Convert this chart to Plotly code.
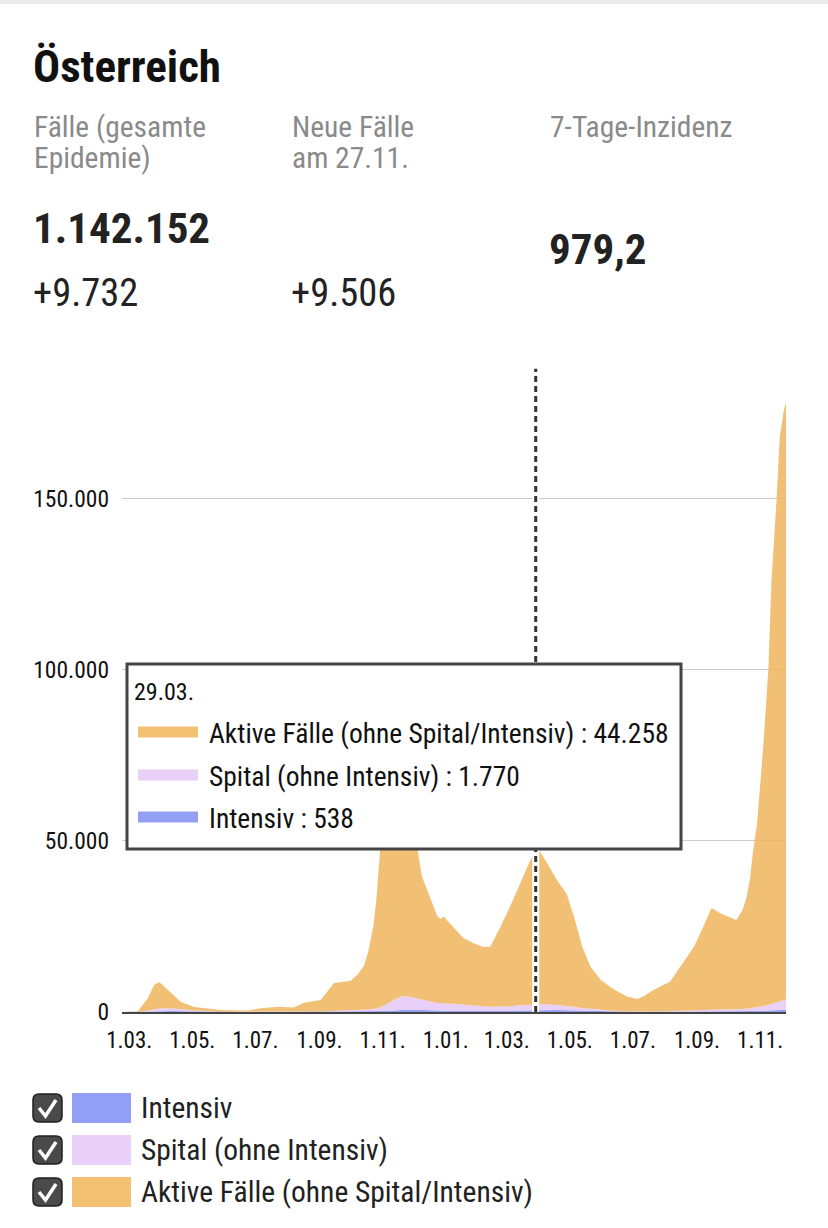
import plotly.graph_objects as go

# ---------------- data ----------------
dates = [
    "2020-02-23", "2020-03-09", "2020-03-19", "2020-03-25", "2020-03-30", "2020-04-10",
    "2020-04-20", "2020-05-03", "2020-05-29", "2020-06-24", "2020-07-06", "2020-07-23",
    "2020-08-04", "2020-08-07", "2020-08-17", "2020-09-02", "2020-09-15", "2020-10-01",
    "2020-10-08", "2020-10-14", "2020-10-18", "2020-10-23", "2020-10-26", "2020-10-28",
    "2020-10-30", "2020-11-03", "2020-11-08", "2020-11-13", "2020-11-18", "2020-11-23",
    "2020-11-28", "2020-12-02", "2020-12-05", "2020-12-09", "2020-12-15", "2020-12-24",
    "2020-12-27", "2020-12-30", "2021-01-02", "2021-01-08", "2021-01-18", "2021-01-27",
    "2021-02-06", "2021-02-13", "2021-02-23", "2021-03-07", "2021-03-17", "2021-03-24",
    "2021-03-29", "2021-04-02", "2021-04-09", "2021-04-18", "2021-04-28", "2021-05-05",
    "2021-05-13", "2021-05-21", "2021-05-31", "2021-06-12", "2021-06-25", "2021-07-05",
    "2021-07-11", "2021-07-21", "2021-08-06", "2021-08-16", "2021-08-29", "2021-09-07",
    "2021-09-15", "2021-09-23", "2021-10-03", "2021-10-09", "2021-10-15", "2021-10-19",
    "2021-10-22", "2021-10-25", "2021-10-29", "2021-11-04", "2021-11-09", "2021-11-12",
    "2021-11-17", "2021-11-20", "2021-11-24", "2021-11-26",
]

intensiv = [
    0, 0, 50, 120, 200, 260,
    200, 120, 30, 10, 10, 20,
    20, 20, 25, 30, 50, 75,
    85, 95, 110, 130, 150, 170,
    200, 280, 400, 520, 650, 700,
    700, 660, 620, 580, 530, 450,
    420, 400, 400, 380, 340, 300,
    280, 260, 280, 330, 430, 500,
    538, 580, 590, 580, 520, 460,
    370, 300, 200, 120, 60, 40,
    35, 40, 50, 80, 140, 190,
    210, 210, 200, 210, 220, 240,
    260, 270, 300, 350, 410, 450,
    520, 560, 620, 650,
]

spital = [
    0, 0, 300, 600, 800, 850,
    650, 350, 70, 40, 60, 90,
    90, 90, 100, 140, 260, 380,
    420, 480, 620, 780, 900, 1050,
    1200, 1700, 2500, 3200, 3800, 3900,
    3700, 3450, 3300, 3000, 2700, 2200,
    2200, 2100, 2100, 2000, 1800, 1500,
    1450, 1300, 1300, 1400, 1650, 1700,
    1770, 1800, 1700, 1500, 1300, 1100,
    800, 600, 400, 230, 120, 90,
    90, 120, 170, 250, 450, 550,
    600, 550, 500, 520, 620, 700,
    800, 900, 1100, 1400, 1700, 1900,
    2200, 2450, 2800, 3000,
]

aktiv = [
    0, 100, 3750, 7180, 7800, 4740,
    2050, 990, 480, 400, 1030, 1390,
    1390, 1190, 2575, 3330, 8190, 8695,
    10495, 12925, 16770, 24090, 31950, 40280,
    47600, 56020, 67100, 76280, 80550, 77400,
    63600, 50890, 43080, 36020, 31570, 25250,
    24580, 25400, 24400, 22520, 19460, 18400,
    17270, 17540, 23320, 30970, 37520, 42300,
    44258, 44520, 41210, 36720, 32680, 26340,
    17930, 12300, 8750, 6350, 4320, 3670,
    4375, 6240, 8680, 12870, 18510, 24160,
    29590, 28140, 26900, 26170, 28960, 32760,
    37540, 45330, 53600, 75750, 98490, 123950,
    147580, 165090, 172580, 174350,
]

series_names = ["Intensiv", "Spital (ohne Intensiv)", "Aktive Fälle (ohne Spital/Intensiv)"]
series_colors = ["#939FF5", "#E8D0F9", "#F2C174"]
series_fills = ["#939FF5", "#E8D0F9", "rgba(240,181,93,0.85)"]

tick_dates = ["2020-03-01", "2020-05-01", "2020-07-01", "2020-09-01", "2020-11-01",
              "2021-01-01", "2021-03-01", "2021-05-01", "2021-07-01", "2021-09-01",
              "2021-11-01"]
tick_labels = ["1.03.", "1.05.", "1.07.", "1.09.", "1.11.", "1.01.", "1.03.", "1.05.",
               "1.07.", "1.09.", "1.11."]
y_ticks = [0, 50000, 100000, 150000]
y_tick_labels = ["0", "50.000", "100.000", "150.000"]

title = "Österreich"
stat_labels = [["Fälle (gesamte", "Epidemie)"], ["Neue Fälle", "am 27.11."], ["7-Tage-Inzidenz"]]
stat_values = ["1.142.152", "", "979,2"]
stat_changes = ["+9.732", "+9.506", ""]

hover_date = "2021-03-29"
hover_label = "29.03."
hover_rows = ["Aktive Fälle (ohne Spital/Intensiv) : 44.258",
              "Spital (ohne Intensiv) : 1.770",
              "Intensiv : 538"]
hover_row_colors = [series_colors[2], series_colors[1], series_colors[0]]

# ---------------- layout helpers ----------------
W, H = 828, 1228
L, R, T, B = 122, 786, 372, 1012
FONT = "Roboto Condensed, Liberation Sans Narrow, DejaVu Sans Condensed, Liberation Sans, sans-serif"


def px(x):
    return (x - L) / (R - L)


def py(y):
    return (B - y) / (B - T)


fig = go.Figure()
for name, vals, fc in zip(series_names, [intensiv, spital, aktiv], series_fills):
    fig.add_trace(go.Scatter(
        x=dates, y=vals, name=name, mode="lines", stackgroup="one",
        line=dict(width=0), fillcolor=fc, hoverinfo="skip", showlegend=False,
    ))

shapes = []
annotations = []

# top grey strip
shapes.append(dict(type="rect", xref="paper", yref="paper", x0=px(0), x1=px(W),
                   y0=py(0), y1=py(4), fillcolor="#ebebeb", line=dict(width=0)))

# crosshair
shapes.append(dict(type="line", xref="x", yref="paper", x0=hover_date, x1=hover_date,
                   y0=0, y1=1.005, line=dict(color="white", width=7), layer="above"))
shapes.append(dict(type="line", xref="x", yref="paper", x0=hover_date, x1=hover_date,
                   y0=0, y1=1.005, line=dict(color="#333333", width=3, dash="6px,4px"),
                   layer="above"))

# tooltip box
shapes.append(dict(type="rect", xref="paper", yref="paper", x0=px(127), x1=px(681),
                   y0=py(849), y1=py(664), fillcolor="white",
                   line=dict(color="#444444", width=3), layer="above"))
annotations.append(dict(text=hover_label, x=px(132), y=py(692), xref="paper", yref="paper",
                        xanchor="left", yanchor="middle", showarrow=False,
                        font=dict(family=FONT, size=24, color="#111111")))
row_y = [732, 775, 817]
for txt, col, yy in zip(hover_rows, hover_row_colors, row_y):
    shapes.append(dict(type="rect", xref="paper", yref="paper", x0=px(138), x1=px(198),
                       y0=py(yy + 5.5), y1=py(yy - 5.5), fillcolor=col,
                       line=dict(width=0), layer="above"))
    annotations.append(dict(text=txt, x=px(207), y=py(yy + 1), xref="paper", yref="paper",
                            xanchor="left", yanchor="middle", showarrow=False,
                            font=dict(family=FONT, size=27.5, color="#111111")))

# header
annotations.append(dict(text="<b>" + title + "</b>", x=px(31), y=py(66), xref="paper",
                        yref="paper", xanchor="left", yanchor="middle", showarrow=False,
                        font=dict(family=FONT, size=45, color="#111111")))
col_x = [33, 291, 549]
for cx, lines in zip(col_x, stat_labels):
    for i, ln in enumerate(lines):
        annotations.append(dict(text=ln, x=px(cx - 1), y=py(127 + 31 * i), xref="paper",
                                yref="paper", xanchor="left", yanchor="middle",
                                showarrow=False,
                                font=dict(family=FONT, size=29.5, color="#8a8a8a")))
val_y = [228, 228, 249]
for cx, v, vy in zip(col_x, stat_values, val_y):
    if v:
        annotations.append(dict(text="<b>" + v + "</b>", x=px(cx - 2), y=py(vy),
                                xref="paper", yref="paper", xanchor="left",
                                yanchor="middle", showarrow=False,
                                font=dict(family=FONT, size=43, color="#222222")))
for cx, v in zip(col_x, stat_changes):
    if v:
        annotations.append(dict(text=v, x=px(cx - 2), y=py(292), xref="paper", yref="paper",
                                xanchor="left", yanchor="middle", showarrow=False,
                                font=dict(family=FONT, size=38.5, color="#222222")))

# custom legend with checkboxes
leg_y = [1108, 1150, 1192]
for name, col, yy in zip(series_names, series_colors, leg_y):
    x0, x1, y0, y1, r = 33, 62, yy - 14, yy + 14, 6
    path = (f"M {px(x0 + r)} {py(y0)} L {px(x1 - r)} {py(y0)} "
            f"Q {px(x1)} {py(y0)} {px(x1)} {py(y0 + r)} L {px(x1)} {py(y1 - r)} "
            f"Q {px(x1)} {py(y1)} {px(x1 - r)} {py(y1)} L {px(x0 + r)} {py(y1)} "
            f"Q {px(x0)} {py(y1)} {px(x0)} {py(y1 - r)} L {px(x0)} {py(y0 + r)} "
            f"Q {px(x0)} {py(y0)} {px(x0 + r)} {py(y0)} Z")
    shapes.append(dict(type="path", xref="paper", yref="paper", path=path,
                       fillcolor="#4a4a4a", line=dict(color="#1e1e1e", width=1.5)))
    chk = (f"M {px(39)} {py(yy)} L {px(45.5)} {py(yy + 8)} L {px(56)} {py(yy - 8)}")
    shapes.append(dict(type="path", xref="paper", yref="paper", path=chk,
                       line=dict(color="white", width=3.5)))
    shapes.append(dict(type="rect", xref="paper", yref="paper", x0=px(72), x1=px(131),
                       y0=py(yy + 15), y1=py(yy - 15), fillcolor=col, line=dict(width=0)))
    annotations.append(dict(text=name, x=px(139), y=py(yy), xref="paper", yref="paper",
                            xanchor="left", yanchor="middle", showarrow=False,
                            font=dict(family=FONT, size=29.5, color="#222222")))

fig.update_layout(
    width=W, height=H, autosize=False,
    margin=dict(l=L, r=W - R, t=T, b=H - B, pad=0),
    paper_bgcolor="white", plot_bgcolor="white",
    separators=",.",
    font=dict(family=FONT, color="#111111"),
    shapes=shapes, annotations=annotations,
    showlegend=False, hovermode=False,
    xaxis=dict(type="date", range=["2020-02-23", "2021-11-26"], tickvals=tick_dates,
               ticktext=tick_labels, showgrid=False, zeroline=False, showline=True,
               linecolor="#444444", linewidth=2, ticks="", ticklabelstandoff=6,
               tickfont=dict(family=FONT, size=23, color="#111111"), fixedrange=True),
    yaxis=dict(range=[0, 187000], tickvals=y_ticks, ticktext=y_tick_labels,
               showgrid=True, gridcolor="#cccccc", gridwidth=1, zeroline=False,
               showline=False, ticks="", ticklabelstandoff=12,
               tickfont=dict(family=FONT, size=23.5, color="#111111"), fixedrange=True),
)

fig.write_html("out.html", config={"displayModeBar": False},
               post_script="document.body.style.margin='0';document.body.style.overflow='hidden';")
